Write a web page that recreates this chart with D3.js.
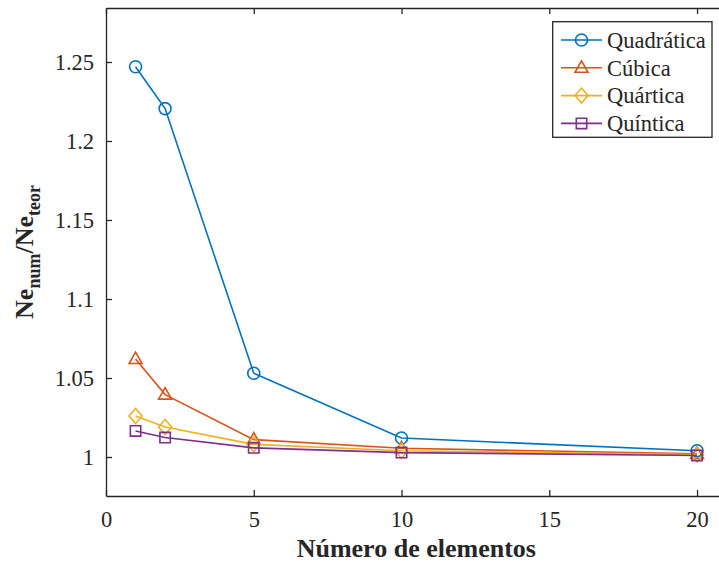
<!DOCTYPE html>
<html>
<head>
<meta charset="utf-8">
<script src="https://cdn.jsdelivr.net/npm/d3@7"></script>
<style>
  html, body { margin: 0; padding: 0; background: #fff; }
  svg { display: block; }
  text { font-family: "Liberation Serif", "Times New Roman", serif; fill: #262626; }
</style>
</head>
<body>
<div id="chart"></div>
<script>
// Convergence of the numerical/theoretical ratio vs. number of elements
const elementos = [1, 2, 5, 10, 20];
const quadratica = [1.247, 1.2205, 1.053, 1.012, 1.004];
const cubica = [1.062, 1.0395, 1.011, 1.0055, 1.002];
const quartica = [1.026, 1.019, 1.008, 1.004, 1.0015];
const quintica = [1.0165, 1.0123, 1.0058, 1.0028, 1.001];
const seriesNames = ["Quadrática", "Cúbica", "Quártica", "Quíntica"];
const xTicks = [0, 5, 10, 15, 20];
const yTicks = [1, 1.05, 1.1, 1.15, 1.2, 1.25];

const W = 719, H = 565;
const margin = { left: 106, top: 8, right: -8, bottom: 69 };
const plotW = 726.6 - margin.left;
const plotH = 496 - margin.top;

const svg = d3.select("#chart").append("svg").attr("width", W).attr("height", H);

const x = d3.scaleLinear().domain([0, 21]).range([margin.left, margin.left + plotW]);
const y = d3.scaleLinear().domain([0.97532, 1.28418]).range([margin.top + plotH, margin.top]);

const axisColor = "#262626";
const g = svg.append("g");

// axes: bottom/left with inward ticks, mirrored at top
const xAxis = d3.axisBottom(x).tickValues(xTicks).tickSizeInner(-6).tickSizeOuter(0).tickPadding(15).tickFormat(d3.format("d"));
const yAxis = d3.axisLeft(y).tickValues(yTicks).tickSizeInner(-6).tickSizeOuter(0).tickPadding(12).tickFormat(d => d === 1 ? "1" : d3.format("")(+d.toFixed(2)));
const xTop = d3.axisTop(x).tickValues(xTicks).tickSizeInner(-6).tickSizeOuter(0).tickFormat("");

function styleAxis(sel) {
  sel.selectAll("path").attr("stroke", axisColor).attr("stroke-width", 1.3);
  sel.selectAll("line").attr("stroke", axisColor).attr("stroke-width", 1.3);
  sel.selectAll("text").attr("fill", axisColor).style("font-size", "22.5px")
     .style("font-family", '"Liberation Serif", "Times New Roman", serif');
}

g.append("g").attr("transform", `translate(0,${margin.top + plotH})`).call(xAxis).call(styleAxis);
g.append("g").attr("transform", `translate(${margin.left},0)`).call(yAxis).call(styleAxis);
g.append("g").attr("transform", `translate(0,${margin.top})`).call(xTop).call(styleAxis);

// series
const colors = ["#0072BD", "#D95319", "#EDB120", "#7E2F8E"];
const allSeries = [quadratica, cubica, quartica, quintica];
const markerPath = [
  "M -6 0 A 6 6 0 1 0 6 0 A 6 6 0 1 0 -6 0 Z",
  "M 0 -7 L 6.5 4.5 L -6.5 4.5 Z",
  "M 0 -7.5 L 6.5 0 L 0 7.5 L -6.5 0 Z",
  "M -5.2 -5.2 L 5.2 -5.2 L 5.2 5.2 L -5.2 5.2 Z"
];

const line = d3.line().x(d => x(d[0])).y(d => y(d[1]));

allSeries.forEach((vals, i) => {
  const pts = elementos.map((e, j) => [e, vals[j]]);
  const sg = svg.append("g");
  sg.append("path").datum(pts).attr("d", line).attr("fill", "none")
    .attr("stroke", colors[i]).attr("stroke-width", 1.6);
  sg.selectAll("path.mk").data(pts).enter().append("path").attr("class", "mk")
    .attr("transform", d => `translate(${x(d[0])},${y(d[1])})`)
    .attr("d", markerPath[i]).attr("fill", "none")
    .attr("stroke", colors[i]).attr("stroke-width", 1.6);
});

// axis titles
svg.append("text").attr("x", x(10.5)).attr("y", 557).attr("text-anchor", "middle")
  .style("font-size", "26px").style("font-weight", "bold").text("Número de elementos");

const yl = svg.append("text").attr("transform", `translate(33,${margin.top + plotH / 2}) rotate(-90)`)
  .attr("text-anchor", "middle").style("font-size", "26px").style("font-weight", "bold");
yl.append("tspan").text("Ne");
yl.append("tspan").attr("dy", 7).style("font-size", "18px").text("num");
yl.append("tspan").attr("dy", -7).text("/Ne");
yl.append("tspan").attr("dy", 7).style("font-size", "18px").text("teor");

// legend
const lg = svg.append("g");
lg.append("rect").attr("x", 552.7).attr("y", 21.7).attr("width", 159.3).attr("height", 115.6)
  .attr("fill", "#fff").attr("stroke", axisColor).attr("stroke-width", 1.3);
seriesNames.forEach((name, i) => {
  const cy = 40 + i * 27.8;
  lg.append("line").attr("x1", 561).attr("x2", 602).attr("y1", cy).attr("y2", cy)
    .attr("stroke", colors[i]).attr("stroke-width", 1.6);
  lg.append("path").attr("transform", `translate(581.5,${cy})`).attr("d", markerPath[i])
    .attr("fill", "none").attr("stroke", colors[i]).attr("stroke-width", 1.6);
  lg.append("text").attr("x", 607).attr("y", cy).attr("dy", "0.35em")
    .style("font-size", "22.5px").text(name);
});
</script>
</body>
</html>
